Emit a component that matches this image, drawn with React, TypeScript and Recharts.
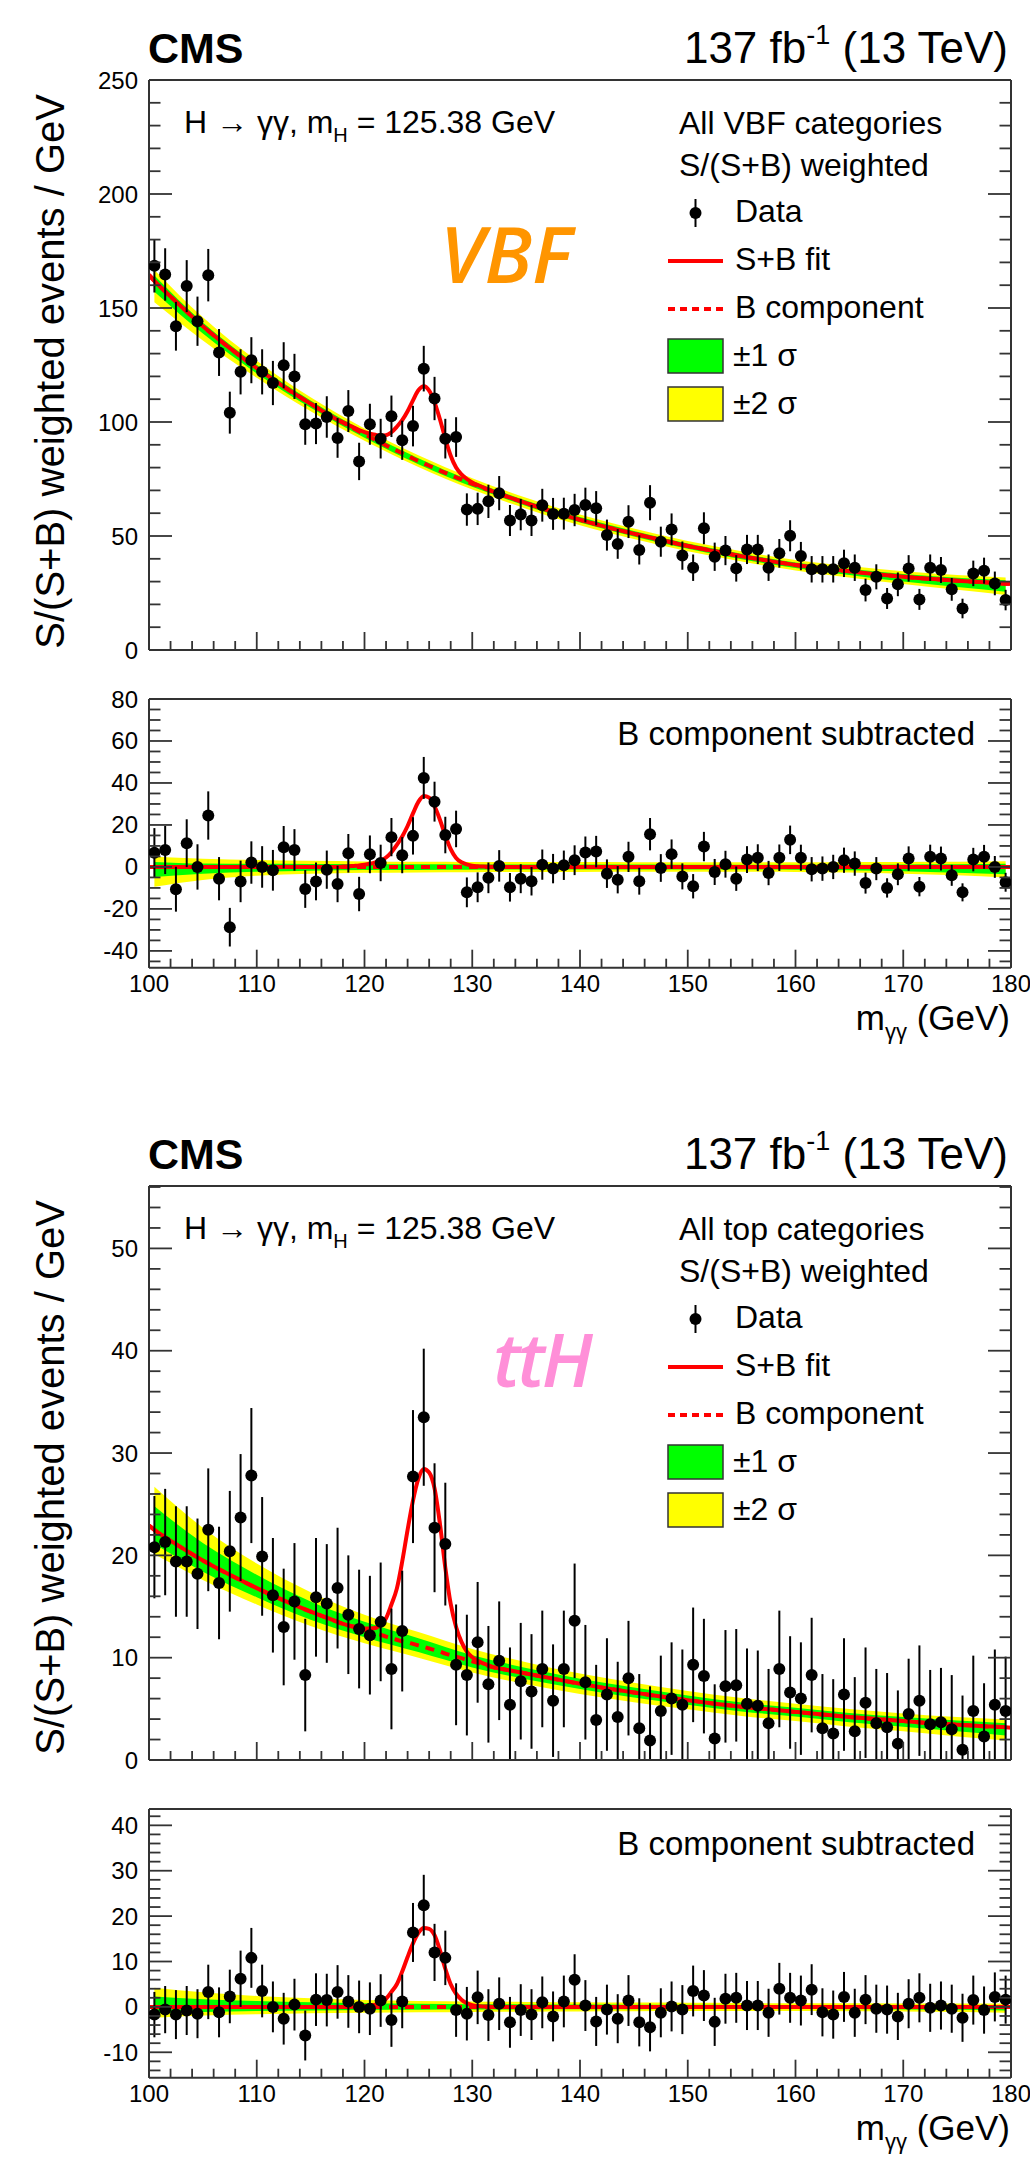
import React from 'react';
import { ComposedChart, Line, Area, Scatter, ErrorBar, XAxis, YAxis } from 'recharts';

const FONT = '"Liberation Sans", Arial, Helvetica, sans-serif';
const FRAME = '#333333';

// Diphoton mass bin centres (GeV), 1 GeV bins
const massBins = [
  100.5, 101.5, 102.5, 103.5, 104.5, 105.5, 106.5, 107.5, 108.5, 109.5,
  110.5, 111.5, 112.5, 113.5, 114.5, 115.5, 116.5, 117.5, 118.5, 119.5,
  120.5, 121.5, 122.5, 123.5, 124.5, 125.5, 126.5, 127.5, 128.5, 129.5,
  130.5, 131.5, 132.5, 133.5, 134.5, 135.5, 136.5, 137.5, 138.5, 139.5,
  140.5, 141.5, 142.5, 143.5, 144.5, 145.5, 146.5, 147.5, 148.5, 149.5,
  150.5, 151.5, 152.5, 153.5, 154.5, 155.5, 156.5, 157.5, 158.5, 159.5,
  160.5, 161.5, 162.5, 163.5, 164.5, 165.5, 166.5, 167.5, 168.5, 169.5,
  170.5, 171.5, 172.5, 173.5, 174.5, 175.5, 176.5, 177.5, 178.5, 179.5,
];

// VBF categories: weighted events per GeV
const vbfEvents = [
  168.5, 164.7, 142.0, 159.6, 144.2, 164.4, 130.5, 104.1, 122.0, 127.1,
  122.0, 117.1, 124.9, 120.0, 99.0, 99.3, 102.2, 93.0, 104.8, 82.7,
  99.0, 92.7, 102.5, 92.0, 98.2, 123.4, 110.3, 92.7, 93.4, 61.6,
  61.9, 65.2, 68.8, 56.8, 59.4, 56.8, 63.5, 59.7, 59.8, 61.4,
  63.6, 62.2, 50.4, 46.5, 56.3, 43.9, 64.6, 47.5, 52.9, 41.4,
  36.1, 53.4, 40.9, 43.6, 35.8, 44.1, 44.1, 36.1, 42.4, 50.1,
  41.2, 35.4, 35.4, 35.4, 38.0, 36.1, 26.3, 32.1, 22.6, 28.8,
  35.8, 22.2, 36.1, 35.1, 26.6, 18.2, 33.6, 34.8, 29.2, 21.9,
];
const vbfErrors = [
  11.7, 11.5, 10.7, 11.4, 10.8, 11.5, 10.3, 9.2, 9.9, 10.1,
  9.9, 9.7, 10.1, 9.9, 9.0, 9.0, 9.1, 8.7, 9.2, 8.2,
  9.0, 8.7, 9.1, 8.6, 8.9, 10.0, 9.5, 8.7, 8.7, 7.1,
  7.1, 7.3, 7.5, 6.8, 6.9, 6.8, 7.2, 7.0, 7.0, 7.1,
  7.6, 7.5, 6.8, 6.5, 7.2, 6.4, 7.7, 6.6, 7.0, 6.2,
  5.8, 7.0, 6.2, 6.4, 5.8, 6.4, 6.4, 5.8, 6.3, 6.8,
  6.2, 5.8, 5.8, 5.8, 6.0, 5.8, 5.0, 5.5, 4.6, 5.2,
  5.8, 4.6, 5.8, 5.7, 5.0, 4.3, 5.6, 5.7, 5.2, 4.5,
];
const vbfSubtracted = [
  6.8, 8.1, -10.6, 11.3, 0.0, 24.5, -5.6, -28.7, -6.9, 2.1,
  0.0, -1.6, 9.4, 8.1, -10.5, -6.9, -1.3, -8.1, 6.5, -12.9,
  6.0, 1.9, 14.2, 5.6, 14.8, 42.4, 31.1, 15.2, 18.1, -12.1,
  -9.7, -5.2, 0.5, -9.7, -5.6, -6.8, 1.1, -0.8, 0.8, 3.2,
  6.9, 7.3, -3.2, -6.1, 4.8, -6.8, 15.6, -0.5, 6.1, -4.5,
  -9.2, 9.7, -2.4, 1.3, -5.6, 3.5, 4.4, -2.9, 4.4, 12.9,
  4.4, -1.1, -0.8, 0.0, 3.2, 1.6, -7.7, -0.8, -10.0, -3.5,
  4.0, -9.4, 4.8, 4.0, -4.0, -12.1, 3.5, 4.8, 0.0, -7.3,
];

// ttH categories: weighted events per GeV
const tthEvents = [
  20.8, 21.3, 19.4, 19.4, 18.2, 22.5, 17.3, 20.4, 23.7, 27.8,
  19.9, 16.1, 13.0, 15.5, 8.3, 15.9, 15.3, 16.8, 14.2, 12.8,
  12.2, 13.5, 8.9, 12.6, 27.7, 33.5, 22.7, 21.1, 9.3, 8.3,
  11.5, 7.4, 9.7, 5.4, 7.7, 6.7, 8.9, 5.8, 8.9, 13.6,
  7.6, 3.9, 6.4, 4.2, 8.0, 3.1, 1.9, 4.8, 6.0, 5.4,
  9.3, 8.2, 2.1, 7.2, 7.3, 5.5, 5.3, 3.6, 8.9, 6.6,
  6.0, 8.3, 3.1, 2.6, 6.4, 2.8, 5.6, 3.6, 3.2, 1.6,
  4.5, 5.8, 3.5, 3.7, 3.0, 1.0, 4.8, 2.3, 5.4, 4.8,
];
const tthErrors = [
  5.0, 5.2, 5.4, 5.4, 5.4, 6.0, 5.5, 5.9, 6.2, 6.6,
  5.8, 5.6, 5.7, 5.7, 5.5, 5.8, 5.8, 5.9, 5.8, 5.8,
  5.8, 5.8, 5.9, 5.9, 6.5, 6.7, 6.3, 6.0, 5.9, 5.9,
  5.9, 5.7, 5.8, 5.6, 5.7, 5.6, 5.7, 5.5, 5.7, 5.6,
  5.6, 5.4, 5.5, 5.4, 5.6, 5.3, 5.3, 5.4, 5.5, 5.4,
  5.6, 5.6, 5.3, 5.5, 5.5, 5.4, 5.4, 5.3, 5.7, 5.5,
  5.5, 5.6, 5.3, 5.3, 5.5, 5.3, 5.4, 5.3, 5.3, 5.2,
  5.4, 5.4, 5.3, 5.3, 5.3, 5.3, 5.4, 5.2, 5.4, 5.3,
];
const tthSubtracted = [
  -1.7, -0.6, -1.7, -0.8, -1.5, 3.3, -1.2, 2.3, 6.2, 10.8,
  3.5, 0.0, -2.6, 0.5, -6.3, 1.6, 1.5, 3.3, 1.2, 0.0,
  -0.4, 1.4, -2.9, 1.2, 16.4, 22.4, 12.0, 10.8, -0.7, -1.5,
  2.1, -1.8, 0.7, -3.4, -0.7, -1.7, 1.0, -2.1, 1.2, 6.0,
  0.3, -3.2, -0.6, -2.6, 1.4, -3.4, -4.5, -1.3, 0.1, -0.6,
  3.5, 2.5, -3.3, 1.8, 2.0, 0.3, 0.3, -1.3, 4.0, 2.0,
  1.4, 3.8, -1.2, -1.7, 2.2, -1.3, 1.6, -0.4, -0.6, -2.1,
  0.7, 2.0, -0.2, 0.3, -0.4, -2.4, 1.5, -0.7, 2.2, 1.6,
];

// Fit curves: background (B) and signal (S) components on a mass grid
const fitMass = [
  100, 100.5, 102.5, 105, 107.5, 110, 112.5, 115, 117.5,
  118, 118.5, 119, 119.5, 120, 120.5, 121, 121.5, 122, 122.5,
  123, 123.5, 124, 124.5, 125, 125.5, 126, 126.5, 127, 127.5,
  128, 128.5, 129, 129.5, 130, 130.5, 131, 131.5, 132, 132.5,
  135, 137.5, 140, 142.5, 145, 147.5, 150, 152.5, 155, 157.5,
  160, 162.5, 165, 167.5, 170, 172.5, 175, 177.5, 179.5, 180,
];
const vbfBkgFit = [
  164.5, 161.9, 152.8, 142.0, 132.4, 123.6, 115.5, 108.0, 101.0,
  99.7, 98.4, 97.1, 95.8, 94.6, 93.4, 92.2, 91.0, 89.7, 88.5,
  87.4, 86.3, 85.2, 84.0, 82.9, 81.9, 80.8, 79.8, 78.7, 77.7,
  76.7, 75.7, 74.8, 73.8, 72.9, 72.0, 71.1, 70.2, 69.3, 68.5,
  64.4, 60.6, 57.1, 53.9, 51.0, 48.3, 45.6, 43.3, 41.1, 39.1,
  37.3, 35.8, 34.5, 33.2, 32.1, 31.2, 30.4, 29.7, 29.1, 29.0,
];
const vbfSigFit = [
  0, 0, 0, 0, 0, 0, 0, 0, 0,
  0.2, 0.3, 0.5, 0.7, 1.0, 1.5, 2.2, 3.0, 4.5, 7.0,
  10.5, 14.5, 19.5, 25.5, 31.0, 33.8, 33.0, 28.8, 22.5, 15.0,
  8.5, 4.3, 2.2, 1.2, 0.6, 0.35, 0.2, 0.1, 0.05, 0,
  0, 0, 0, 0, 0, 0, 0, 0, 0, 0,
  0, 0, 0, 0, 0, 0, 0, 0, 0, 0,
];
const tthBkgFit = [
  22.9, 22.5, 21.1, 19.5, 18.1, 16.8, 15.6, 14.5, 13.5,
  13.3, 13.15, 13.0, 12.85, 12.7, 12.55, 12.4, 12.25, 12.05, 11.9,
  11.75, 11.6, 11.5, 11.35, 11.2, 11.05, 10.9, 10.75, 10.6, 10.4,
  10.25, 10.1, 9.95, 9.8, 9.65, 9.5, 9.35, 9.2, 9.05, 8.95,
  8.45, 7.95, 7.45, 7.0, 6.6, 6.2, 5.85, 5.5, 5.2, 4.95,
  4.7, 4.45, 4.2, 4.0, 3.8, 3.6, 3.45, 3.3, 3.2, 3.15,
];
const tthSigFit = [
  0, 0, 0, 0, 0, 0, 0, 0, 0,
  0, 0, 0.05, 0.1, 0.15, 0.3, 0.5, 1.0, 1.8, 3.3,
  5.0, 7.8, 11.0, 14.0, 16.3, 17.4, 17.2, 15.8, 12.5, 8.4,
  5.0, 2.9, 1.6, 0.8, 0.4, 0.2, 0.1, 0.05, 0, 0,
  0, 0, 0, 0, 0, 0, 0, 0, 0, 0,
  0, 0, 0, 0, 0, 0, 0, 0, 0, 0,
];

// Background uncertainty bands (offsets from the B component)
const bandMass = [100.5, 105, 110, 115, 120, 125, 130, 135, 140, 145, 150, 155, 160, 165, 170, 175, 179.5];
const vbfTwoSigmaLo = [-9.4, -6.2, -4.2, -3.3, -2.8, -2.6, -2.5, -2.4, -2.4, -2.35, -2.3, -2.3, -2.4, -2.7, -3.2, -4.0, -5.0];
const vbfOneSigmaLo = [-4.8, -3.2, -2.3, -1.8, -1.5, -1.4, -1.3, -1.25, -1.2, -1.2, -1.2, -1.25, -1.3, -1.6, -2.1, -2.8, -3.5];
const vbfOneSigmaHi = [2.4, 1.6, 1.5, 1.4, 1.3, 1.25, 1.2, 1.2, 1.2, 1.15, 1.1, 1.1, 1.1, 1.1, 1.2, 1.3, 1.5];
const vbfTwoSigmaHi = [4.8, 3.9, 3.3, 2.9, 2.6, 2.5, 2.4, 2.35, 2.3, 2.25, 2.2, 2.2, 2.2, 2.3, 2.4, 2.5, 2.7];
const tthTwoSigmaLo = [-2.4, -1.9, -1.6, -1.4, -1.3, -1.2, -1.1, -1.05, -1.0, -0.95, -0.9, -0.9, -0.9, -0.95, -1.0, -1.15, -1.3];
const tthOneSigmaLo = [-1.4, -1.1, -0.9, -0.8, -0.7, -0.65, -0.6, -0.55, -0.5, -0.5, -0.45, -0.45, -0.45, -0.5, -0.55, -0.65, -0.8];
const tthOneSigmaHi = [2.3, 1.7, 1.3, 1.0, 0.8, 0.7, 0.6, 0.55, 0.5, 0.48, 0.45, 0.42, 0.4, 0.4, 0.4, 0.4, 0.4];
const tthTwoSigmaHi = [4.2, 3.2, 2.4, 1.9, 1.5, 1.3, 1.2, 1.1, 1.0, 0.95, 0.9, 0.85, 0.8, 0.78, 0.75, 0.75, 0.75];

// Axis tick labels
const xLabels = [100, 110, 120, 130, 140, 150, 160, 170, 180];
const vbfMainLabels = [0, 50, 100, 150, 200, 250];
const vbfRatioLabels = [-40, -20, 0, 20, 40, 60, 80];
const tthMainLabels = [0, 10, 20, 30, 40, 50];
const tthRatioLabels = [-10, 0, 10, 20, 30, 40];

const range = (a: number, b: number, s: number) => {
  const out: number[] = [];
  for (let v = a; v <= b + 1e-9; v += s) out.push(Math.round(v * 1000) / 1000);
  return out;
};
const xTicks = range(100, 180, 2);

// Frame geometry: plot spans x 149..1011 in every panel
const RIGHT_MARGIN = 18;
const Y_AXIS_W = 149;

type Pt = { m: number; v: number; err: number[] };

// Error bars are cut at the frame edges, as the histogram frame clips them
const dataPoints = (vals: number[], errs: number[], yMin: number, yMax: number): Pt[] =>
  massBins.map((m, i) => ({
    m,
    v: vals[i],
    err: [Math.max(0, Math.min(errs[i], vals[i] - yMin)), Math.max(0, Math.min(errs[i], yMax - vals[i]))],
  }));

const fitCurve = (bkg: number[], sig: number[], withBkg: boolean) =>
  fitMass.map((m, i) => ({ m, sb: (withBkg ? bkg[i] : 0) + sig[i], b: withBkg ? bkg[i] : 0 }));

const bandArea = (bkg: number[], lo2: number[], lo1: number[], hi1: number[], hi2: number[], withBkg: boolean) =>
  bandMass.map((m, i) => {
    const base = withBkg ? bkg[fitMass.indexOf(m)] : 0;
    return { m, y2: [base + lo2[i], base + hi2[i]], y1: [base + lo1[i], base + hi1[i]] };
  });

const isMajor = (v: number, step: number) => Math.abs(v / step - Math.round(v / step)) < 1e-6;

// Inward-pointing ROOT-style ticks, labels only on the left and bottom axes
const makeTick = (side: 'bottom' | 'top' | 'left' | 'right', labels: number[] | null, majorStep: number) =>
  (props: any) => {
    const { x, y, payload } = props;
    const v = payload.value as number;
    const major = isMajor(v, majorStep);
    const horiz = side === 'bottom' || side === 'top';
    const len = horiz ? (major ? 18 : 9) : (major ? 23 : 11.5);
    let x2 = x, y2 = y;
    if (side === 'bottom') y2 = y - len;
    if (side === 'top') y2 = y + len;
    if (side === 'left') x2 = x + len;
    if (side === 'right') x2 = x - len;
    const showLabel = labels && labels.some((l) => Math.abs(l - v) < 1e-6);
    return (
      <g>
        <line x1={x} y1={y} x2={x2} y2={y2} stroke={FRAME} strokeWidth={1.8} />
        {showLabel && side === 'bottom' && (
          <text x={x} y={y + 24} textAnchor="middle" fontSize={24} fontFamily={FONT} fill="#000">{v}</text>
        )}
        {showLabel && side === 'left' && (
          <text x={x - 11} y={y + 8.5} textAnchor="end" fontSize={24} fontFamily={FONT} fill="#000">{v}</text>
        )}
      </g>
    );
  };

const renderDot = (p: any) => <circle cx={p.cx} cy={p.cy} r={6} fill="#000" />;

type PanelProps = {
  top: number;
  height: number;
  marginTop: number;
  marginBottom: number;
  yDomain: [number, number];
  yTicks: number[];
  yLabels: number[];
  yMajorStep: number;
  showXLabels: boolean;
  points: Pt[];
  curve: { m: number; sb: number; b: number }[];
  band: { m: number; y2: number[]; y1: number[] }[];
};

function Panel(p: PanelProps) {
  const frameLine = { stroke: FRAME, strokeWidth: 2 };
  return (
    <div style={{ position: 'absolute', left: 0, top: p.top, width: 1030, height: p.height }}>
      <ComposedChart
        width={1030}
        height={p.height}
        margin={{ top: p.marginTop, right: RIGHT_MARGIN, bottom: p.marginBottom, left: 0 }}
      >
        <XAxis
          dataKey="m" type="number" domain={[100, 180]} ticks={xTicks} interval={0}
          allowDataOverflow height={1} tickSize={0} tickMargin={0} tickLine={false}
          axisLine={frameLine} tick={makeTick('bottom', p.showXLabels ? xLabels : null, 10)}
        />
        <XAxis
          xAxisId="top" orientation="top" type="number" domain={[100, 180]} ticks={xTicks} interval={0}
          allowDataOverflow height={1} tickSize={0} tickMargin={0} tickLine={false}
          axisLine={frameLine} tick={makeTick('top', null, 10)}
        />
        <YAxis
          type="number" domain={p.yDomain} ticks={p.yTicks} interval={0} allowDataOverflow
          width={Y_AXIS_W} tickSize={0} tickMargin={0} tickLine={false} axisLine={frameLine}
          tick={makeTick('left', p.yLabels, p.yMajorStep)}
        />
        <YAxis
          yAxisId="r" orientation="right" type="number" domain={p.yDomain} ticks={p.yTicks} interval={0}
          allowDataOverflow width={1} tickSize={0} tickMargin={0} tickLine={false} axisLine={frameLine}
          tick={makeTick('right', null, p.yMajorStep)}
        />
        <Area data={p.band} dataKey="y2" type="monotone" fill="#ffff00" fillOpacity={1} stroke="none" dot={false} activeDot={false} isAnimationActive={false} />
        <Area data={p.band} dataKey="y1" type="monotone" fill="#00ff00" fillOpacity={1} stroke="none" dot={false} activeDot={false} isAnimationActive={false} />
        <Line data={p.curve} dataKey="b" type="monotone" stroke="#ff0000" strokeWidth={4} strokeDasharray="9 7" dot={false} activeDot={false} isAnimationActive={false} />
        <Line data={p.curve} dataKey="sb" type="monotone" stroke="#ff0000" strokeWidth={4} dot={false} activeDot={false} isAnimationActive={false} />
        <Scatter data={p.points} dataKey="v" shape={renderDot} isAnimationActive={false}>
          <ErrorBar dataKey="err" direction="y" width={0} stroke="#000" strokeWidth={2} isAnimationActive={false} />
        </Scatter>
      </ComposedChart>
    </div>
  );
}

// Header, legend and axis titles for one main + subtracted block
function Annotations({ frameTop, ratioTop, ratioBottom, category, tag, tagColor, tagX, tagY, tagSize, tagSpacing }: {
  frameTop: number; ratioTop: number; ratioBottom: number; category: string;
  tag: string; tagColor: string; tagX: number; tagY: number; tagSize: number; tagSpacing: number;
}) {
  const ft = frameTop;
  const lx = 668;
  const tx = 735;
  return (
    <g fontFamily={FONT} fill="#000">
      <text x={148} y={ft - 17} fontSize={43} fontWeight="bold">CMS</text>
      <text x={1008} y={ft - 17} fontSize={44} textAnchor="end">
        137 fb<tspan fontSize={27} dy={-19}>-1</tspan><tspan dy={19}> (13 TeV)</tspan>
      </text>
      <text x={184} y={ft + 53} fontSize={32}>
        H → γγ, m<tspan fontSize={20} dy={9}>H</tspan><tspan dy={-9}> = 125.38 GeV</tspan>
      </text>
      <text x={679} y={ft + 54} fontSize={32}>{category}</text>
      <text x={679} y={ft + 96} fontSize={32}>S/(S+B) weighted</text>
      <line x1={lx + 27.5} x2={lx + 27.5} y1={ft + 119} y2={ft + 147} stroke="#000" strokeWidth={2} />
      <circle cx={lx + 27.5} cy={ft + 133} r={6} fill="#000" />
      <text x={tx} y={ft + 142} fontSize={32}>Data</text>
      <line x1={lx} x2={lx + 55} y1={ft + 181} y2={ft + 181} stroke="#ff0000" strokeWidth={4} />
      <text x={tx} y={ft + 190} fontSize={32}>S+B fit</text>
      <line x1={lx} x2={lx + 55} y1={ft + 229} y2={ft + 229} stroke="#ff0000" strokeWidth={4} strokeDasharray="7 5" />
      <text x={tx} y={ft + 238} fontSize={32}>B component</text>
      <rect x={lx} y={ft + 259} width={55} height={34} fill="#00ff00" stroke="#333" strokeWidth={1.5} />
      <text x={tx - 2} y={ft + 286} fontSize={32}>±1 σ</text>
      <rect x={lx} y={ft + 307} width={55} height={34} fill="#ffff00" stroke="#333" strokeWidth={1.5} />
      <text x={tx - 2} y={ft + 334} fontSize={32}>±2 σ</text>
      <text
        x={tagX} y={tagY} fontSize={tagSize} fontFamily='"Open Sans", "DejaVu Sans", sans-serif'
        fontStyle="italic" fontWeight={600} fill={tagColor} letterSpacing={tagSpacing}
      >{tag}</text>
      <text x={64} y={ft + 14} fontSize={40} textAnchor="end" transform={`rotate(-90 64 ${ft + 14})`}>
        S/(S+B) weighted events / GeV
      </text>
      <text x={975} y={ratioTop + 46} fontSize={33} textAnchor="end">B component subtracted</text>
      <text x={1010} y={ratioBottom + 62} fontSize={35} textAnchor="end">
        m<tspan fontSize={22} dy={9}>γγ</tspan><tspan dy={-9}> (GeV)</tspan>
      </text>
    </g>
  );
}

export default function App() {
  const vbfPts = dataPoints(vbfEvents, vbfErrors, 0, 250);
  const vbfSubPts = dataPoints(vbfSubtracted, vbfErrors, -48, 80);
  const tthPts = dataPoints(tthEvents, tthErrors, 0, 56.1);
  const tthSubPts = dataPoints(tthSubtracted, tthErrors, -15.6, 43.6);

  return (
    <div style={{ position: 'absolute', left: 0, top: 0, width: 1030, height: 2161, background: '#fff', overflow: 'hidden' }}>
      {/* VBF: main panel, frame y 80..650 */}
      <Panel
        top={0} height={680} marginTop={79} marginBottom={29}
        yDomain={[0, 250]} yTicks={range(0, 250, 10)} yLabels={vbfMainLabels} yMajorStep={50}
        showXLabels={false} points={vbfPts}
        curve={fitCurve(vbfBkgFit, vbfSigFit, true)}
        band={bandArea(vbfBkgFit, vbfTwoSigmaLo, vbfOneSigmaLo, vbfOneSigmaHi, vbfTwoSigmaHi, true)}
      />
      {/* VBF: background-subtracted panel, frame y 699..968 */}
      <Panel
        top={670} height={360} marginTop={28} marginBottom={61.3}
        yDomain={[-48, 80]} yTicks={range(-45, 80, 5)} yLabels={vbfRatioLabels} yMajorStep={20}
        showXLabels={true} points={vbfSubPts}
        curve={fitCurve(vbfBkgFit, vbfSigFit, false)}
        band={bandArea(vbfBkgFit, vbfTwoSigmaLo, vbfOneSigmaLo, vbfOneSigmaHi, vbfTwoSigmaHi, false)}
      />
      {/* ttH: main panel, frame y 1186..1760 */}
      <Panel
        top={1100} height={690} marginTop={85} marginBottom={29}
        yDomain={[0, 56.1]} yTicks={range(0, 56, 2)} yLabels={tthMainLabels} yMajorStep={10}
        showXLabels={false} points={tthPts}
        curve={fitCurve(tthBkgFit, tthSigFit, true)}
        band={bandArea(tthBkgFit, tthTwoSigmaLo, tthOneSigmaLo, tthOneSigmaHi, tthTwoSigmaHi, true)}
      />
      {/* ttH: background-subtracted panel, frame y 1809..2078 */}
      <Panel
        top={1780} height={360} marginTop={28} marginBottom={61.3}
        yDomain={[-15.6, 43.6]} yTicks={range(-14, 42, 2)} yLabels={tthRatioLabels} yMajorStep={10}
        showXLabels={true} points={tthSubPts}
        curve={fitCurve(tthBkgFit, tthSigFit, false)}
        band={bandArea(tthBkgFit, tthTwoSigmaLo, tthOneSigmaLo, tthOneSigmaHi, tthTwoSigmaHi, false)}
      />
      <svg width={1030} height={2161} style={{ position: 'absolute', left: 0, top: 0, pointerEvents: 'none' }}>
        <Annotations
          frameTop={80} ratioTop={699} ratioBottom={968} category="All VBF categories"
          tag="VBF" tagColor="#ff9500" tagX={440} tagY={283} tagSize={78} tagSpacing={0}
        />
        <Annotations
          frameTop={1186} ratioTop={1809} ratioBottom={2078} category="All top categories"
          tag="ttH" tagColor="#ff8fd8" tagX={493} tagY={1387} tagSize={74} tagSpacing={-3}
        />
      </svg>
    </div>
  );
}
